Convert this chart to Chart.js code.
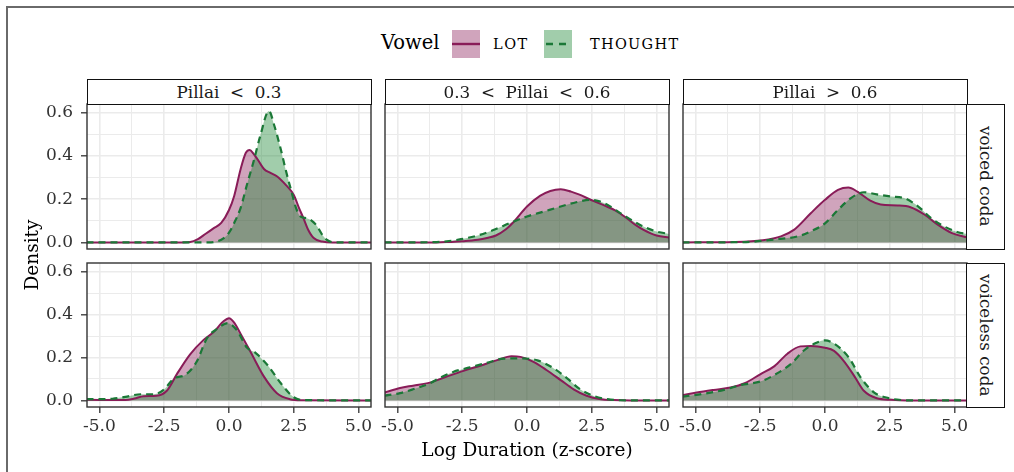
<!DOCTYPE html>
<html>
<head>
<meta charset="utf-8">
<script src="https://cdn.jsdelivr.net/npm/chart.js@4.4.1/dist/chart.umd.min.js"></script>
<style>
  html,body{margin:0;padding:0;background:#fff;}
  #wrap{position:relative;width:1014px;height:472px;overflow:hidden;background:#fff;font-family:"DejaVu Serif",serif;color:#000;}
  .abs{position:absolute;}
  .strip{position:absolute;box-sizing:border-box;border:1.4px solid #111;background:#fff;color:#1a1a1a;font-size:16.8px;display:flex;align-items:center;justify-content:center;white-space:pre;}
  .vstrip{writing-mode:vertical-rl;}
  .leg{position:absolute;white-space:nowrap;}
</style>
</head>
<body>
<div id="wrap"></div>
<script>
// ---------- data ----------
const columnLabels = ['Pillai  <  0.3', '0.3  <  Pillai  <  0.6', 'Pillai  >  0.6'];
const rowLabels = ['voiced coda', 'voiceless coda'];
const vowels = ['LOT', 'THOUGHT'];
const xTickValues = [-5, -3.75, -2.5, -1.25, 0, 1.25, 2.5, 3.75, 5];
const xMajorTicks = [-5, -2.5, 0, 2.5, 5];
const yTickValues = [0, 0.1, 0.2, 0.3, 0.4, 0.5, 0.6];
const yMajorTicks = [0, 0.2, 0.4, 0.6];

// voiced coda
const voicedLowLOT = [[-5.5,0],[-2,0],[-1.5,0.002],[-1.2,0.015],[-0.9,0.04],[-0.6,0.065],[-0.3,0.09],[0,0.15],[0.2,0.215],[0.45,0.34],[0.65,0.415],[0.8,0.428],[0.95,0.41],[1.1,0.385],[1.35,0.34],[1.6,0.322],[1.86,0.305],[2.2,0.265],[2.5,0.22],[2.7,0.16],[2.88,0.11],[3.05,0.06],[3.27,0.02],[3.6,0.004],[4,0],[5.5,0]];
const voicedLowTHOUGHT = [[-5.5,0],[-0.8,0],[-0.45,0.005],[-0.2,0.02],[0,0.045],[0.2,0.09],[0.45,0.16],[0.7,0.27],[0.95,0.375],[1.2,0.49],[1.54,0.608],[1.75,0.54],[2.0,0.43],[2.2,0.33],[2.4,0.24],[2.6,0.155],[2.78,0.118],[3.0,0.112],[3.2,0.1],[3.4,0.075],[3.6,0.035],[3.8,0.01],[4.1,0],[5.5,0]];
const voicedMidLOT = [[-5.5,0],[-3.5,0],[-3,0.002],[-2.5,0.005],[-1.9,0.012],[-1.5,0.022],[-1.2,0.032],[-0.8,0.062],[-0.5,0.097],[0,0.166],[0.5,0.215],[0.9,0.238],[1.3,0.246],[1.7,0.235],[2.0,0.222],[2.5,0.195],[3.0,0.17],[3.4,0.148],[3.85,0.112],[4.2,0.08],[4.5,0.058],[5.0,0.032],[5.5,0.022]];
const voicedMidTHOUGHT = [[-5.5,0],[-3.6,0.001],[-3.1,0.005],[-2.55,0.015],[-1.9,0.032],[-1.3,0.057],[-0.65,0.09],[0,0.12],[0.65,0.143],[1.3,0.166],[1.9,0.186],[2.45,0.197],[2.8,0.19],[3.1,0.174],[3.7,0.128],[4.35,0.082],[5.0,0.05],[5.5,0.039]];
const voicedHighLOT = [[-5.5,0],[-3.5,0.002],[-2.4,0.01],[-1.7,0.028],[-1.2,0.058],[-0.55,0.135],[0,0.197],[0.5,0.243],[0.9,0.254],[1.25,0.235],[1.75,0.193],[2.15,0.175],[2.8,0.171],[3.3,0.163],[3.85,0.128],[4.35,0.082],[4.9,0.043],[5.5,0.023]];
const voicedHighTHOUGHT = [[-5.5,0],[-3.5,0.001],[-2.85,0.003],[-1.85,0.015],[-1.05,0.028],[-0.55,0.051],[0,0.088],[0.5,0.15],[1.0,0.205],[1.5,0.232],[2.0,0.222],[2.55,0.212],[3.05,0.205],[3.6,0.166],[4.1,0.112],[4.6,0.074],[5.1,0.048],[5.5,0.038]];
// voiceless coda
const voicelessLowLOT = [[-5.5,0.003],[-4.0,0.002],[-3.65,0.009],[-3.3,0.02],[-2.8,0.022],[-2.4,0.045],[-2.0,0.125],[-1.5,0.215],[-1.0,0.28],[-0.6,0.318],[-0.2,0.37],[0,0.383],[0.2,0.363],[0.45,0.31],[0.85,0.222],[1.35,0.111],[1.85,0.034],[2.35,0.006],[2.8,0.001],[5.5,0]];
const voicelessLowTHOUGHT = [[-5.5,0.006],[-5.0,0.006],[-4.5,0.008],[-4.0,0.017],[-3.4,0.029],[-2.9,0.029],[-2.5,0.052],[-2.15,0.1],[-1.65,0.122],[-1.25,0.18],[-0.85,0.29],[-0.45,0.334],[-0.05,0.36],[0.3,0.328],[0.7,0.245],[1.0,0.224],[1.5,0.163],[2.0,0.08],[2.5,0.015],[2.9,0.002],[5.5,0]];
const voicelessMidLOT = [[-5.5,0.037],[-4.9,0.058],[-4.4,0.069],[-3.75,0.083],[-3.1,0.111],[-2.45,0.138],[-1.8,0.162],[-1.15,0.188],[-0.6,0.206],[-0.25,0.203],[0.25,0.18],[0.75,0.142],[1.3,0.095],[1.8,0.052],[2.3,0.022],[2.85,0.006],[3.35,0.002],[4,0],[5.5,0]];
const voicelessMidTHOUGHT = [[-5.5,0.022],[-4.9,0.034],[-4.4,0.052],[-3.75,0.08],[-3.35,0.106],[-2.85,0.133],[-2.2,0.154],[-1.55,0.175],[-0.9,0.195],[-0.25,0.196],[0.4,0.187],[1.05,0.148],[1.55,0.103],[2.05,0.052],[2.6,0.02],[3.1,0.006],[3.6,0.001],[5.5,0]];
const voicelessHighLOT = [[-5.5,0.025],[-4.95,0.037],[-4.3,0.049],[-3.65,0.06],[-3.1,0.08],[-2.5,0.122],[-1.95,0.16],[-1.45,0.218],[-0.95,0.252],[-0.55,0.254],[0,0.246],[0.35,0.231],[0.75,0.18],[1.15,0.11],[1.5,0.045],[2.0,0.01],[2.55,0.003],[3.2,0],[5.5,0]];
const voicelessHighTHOUGHT = [[-5.5,0.018],[-4.7,0.031],[-3.9,0.049],[-3.25,0.072],[-2.5,0.088],[-1.85,0.126],[-1.3,0.172],[-0.8,0.234],[-0.4,0.265],[0,0.28],[0.35,0.265],[0.9,0.203],[1.4,0.103],[1.9,0.037],[2.45,0.011],[2.95,0.002],[3.5,0],[5.5,0]];

const panelSeries = [
  [[voicedLowLOT, voicedLowTHOUGHT], [voicedMidLOT, voicedMidTHOUGHT], [voicedHighLOT, voicedHighTHOUGHT]],
  [[voicelessLowLOT, voicelessLowTHOUGHT], [voicelessMidLOT, voicelessMidTHOUGHT], [voicelessHighLOT, voicelessHighTHOUGHT]]
];

// ---------- style ----------
const LOT_LINE = '#891C58', LOT_FILL = 'rgba(137,28,88,0.4)';
const TH_LINE = '#1B7837', TH_FILL = 'rgba(20,130,45,0.4)';
const FONT = '"DejaVu Serif", serif';
const colX = [87, 385, 683], PW = 284;
const rowY = [104, 263], PH = [145, 144];
const X_MIN = -5.48, X_MAX = 5.48, Y_MIN = -0.0305, Y_MAX = 0.6405;

const wrap = document.getElementById('wrap');
function el(cls, css, html) {
  const d = document.createElement('div');
  d.className = cls; Object.assign(d.style, css);
  if (html !== undefined) d.textContent = html;
  wrap.appendChild(d); return d;
}

// outer frame (top and left edges visible)
el('abs', {left:'6px', top:'6px', width:'1008px', height:'2px', background:'#6a6a6a'});
el('abs', {left:'6px', top:'6px', width:'2px', height:'466px', background:'#6a6a6a'});

const isMajor = (arr, v) => arr.some(m => Math.abs(m - v) < 1e-9);

const borderPlugin = {
  id: 'panelBorder',
  afterDraw(chart) {
    const a = chart.chartArea, c = chart.ctx;
    c.save(); c.strokeStyle = '#333'; c.lineWidth = 1.4;
    c.strokeRect(a.left, a.top, a.right - a.left, a.bottom - a.top);
    c.restore();
  }
};

for (let r = 0; r < 2; r++) {
  for (let c = 0; c < 3; c++) {
    const ML = c === 0 ? 80 : 14, MR = 14, MT = 24, MB = r === 1 ? 40 : 24;
    const W = PW + ML + MR, H = PH[r] + MT + MB;
    const holder = el('abs', {left:(colX[c]-ML)+'px', top:(rowY[r]-MT)+'px', width:W+'px', height:H+'px'});
    const cv = document.createElement('canvas');
    cv.width = W; cv.height = H; cv.style.width = W+'px'; cv.style.height = H+'px';
    holder.appendChild(cv);
    const [lot, th] = panelSeries[r][c];
    const showY = c === 0, showX = r === 1;
    new Chart(cv, {
      type: 'line',
      data: {
        datasets: [
          {label: vowels[1], data: th.map(p => ({x:p[0], y:p[1]})), borderColor: TH_LINE, backgroundColor: TH_FILL,
           borderWidth: 2.2, borderDash: [7,5], fill: 'origin', pointRadius: 0, cubicInterpolationMode: 'monotone', clip: 0},
          {label: vowels[0], data: lot.map(p => ({x:p[0], y:p[1]})), borderColor: LOT_LINE, backgroundColor: LOT_FILL,
           borderWidth: 2, fill: 'origin', pointRadius: 0, cubicInterpolationMode: 'monotone', clip: 0}
        ]
      },
      options: {
        responsive: false, animation: false, devicePixelRatio: 1,
        layout: {autoPadding: false, padding: {left: showY ? 0 : ML, right: MR, top: MT, bottom: showX ? 0 : MB}},
        plugins: {legend: {display:false}, tooltip: {enabled:false}, filler: {drawTime: 'beforeDatasetsDraw'}},
        scales: {
          x: {
            type: 'linear', min: X_MIN, max: X_MAX,
            afterBuildTicks: s => { s.ticks = xTickValues.map(v => ({value: v})); },
            afterFit: s => { s.height = showX ? MB : 0; },
            border: {display: false},
            grid: {
              drawTicks: showX, tickLength: 6, tickWidth: 1.3,
              color: ctx => '#EBEBEB',
              lineWidth: ctx => (ctx.tick && isMajor(xMajorTicks, ctx.tick.value)) ? 1.6 : 1.0,
              tickColor: ctx => (ctx.tick && isMajor(xMajorTicks, ctx.tick.value)) ? '#333' : 'rgba(0,0,0,0)'
            },
            ticks: {
              display: showX, autoSkip: false, maxRotation: 0, padding: 3, color: '#333',
              font: {family: FONT, size: 17},
              callback: v => isMajor(xMajorTicks, v) ? v.toFixed(1) : ''
            }
          },
          y: {
            type: 'linear', min: Y_MIN, max: Y_MAX,
            afterBuildTicks: s => { s.ticks = yTickValues.map(v => ({value: v})); },
            afterFit: s => { s.width = showY ? ML : 0; },
            border: {display: false},
            grid: {
              drawTicks: showY, tickLength: 6, tickWidth: 1.3,
              color: ctx => '#EBEBEB',
              lineWidth: ctx => (ctx.tick && isMajor(yMajorTicks, ctx.tick.value)) ? 1.6 : 1.0,
              tickColor: ctx => (ctx.tick && isMajor(yMajorTicks, ctx.tick.value)) ? '#333' : 'rgba(0,0,0,0)'
            },
            ticks: {
              display: showY, autoSkip: false, padding: 8, color: '#333',
              font: {family: FONT, size: 17},
              callback: v => isMajor(yMajorTicks, v) ? v.toFixed(1) : ''
            }
          }
        }
      },
      plugins: [borderPlugin]
    });
  }
}

// top strips
for (let c = 0; c < 3; c++) {
  el('strip', {left:(colX[c]-0.5)+'px', top:'79px', width:(PW+1)+'px', height:'26px'}, columnLabels[c]);
}
// right strips
for (let r = 0; r < 2; r++) {
  el('strip vstrip', {left:'966px', top:(rowY[r]-0.5)+'px', width:'39px', height:(PH[r]+1)+'px'}, rowLabels[r]);
}

// axis titles
el('abs', {left:'327px', top:'439px', width:'400px', textAlign:'center', fontSize:'18.5px', lineHeight:'22px', whiteSpace:'nowrap'}, 'Log Duration (z-score)');
el('abs', {left:'-68px', top:'244px', width:'200px', height:'22px', textAlign:'center', fontSize:'18.5px', lineHeight:'22px', transform:'rotate(-90deg)', whiteSpace:'nowrap'}, 'Density');

// legend
el('leg', {left:'381px', top:'31px', fontSize:'19.5px', lineHeight:'24px'}, 'Vowel');
function key(left, fill, line, dash) {
  const d = el('abs', {left:left+'px', top:'30px', width:'28px', height:'28px'});
  d.innerHTML = '<svg width="28" height="28"><rect x="0" y="0" width="28" height="28" fill="' + fill + '"/>' +
    '<line x1="0" y1="14" x2="28" y2="14" stroke="' + line + '" stroke-width="2.4"' + (dash ? ' stroke-dasharray="7,6" stroke-dashoffset="-2"' : '') + '/></svg>';
}
key(452, LOT_FILL, LOT_LINE, false);
key(544, TH_FILL, TH_LINE, true);
el('leg', {left:'493px', top:'33px', fontSize:'14.5px', letterSpacing:'1.5px', lineHeight:'22px'}, vowels[0]);
el('leg', {left:'590px', top:'33px', fontSize:'14.5px', letterSpacing:'1.3px', lineHeight:'22px'}, vowels[1]);
</script>
</body>
</html>
